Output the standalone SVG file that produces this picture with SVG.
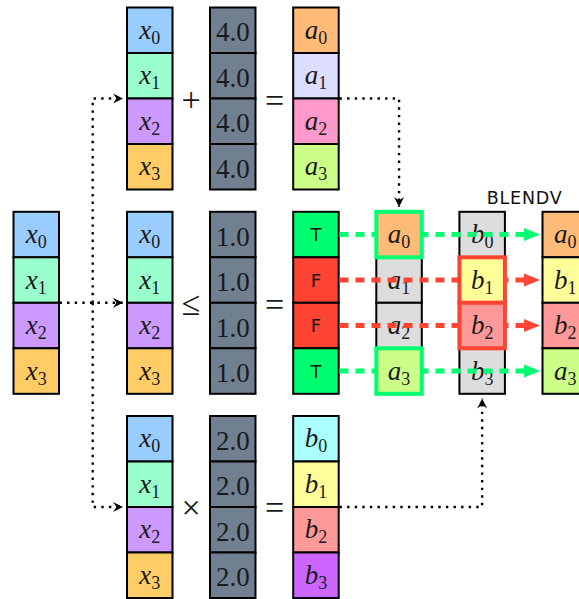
<svg xmlns="http://www.w3.org/2000/svg" width="579" height="599" viewBox="0 0 579 599">
<style>
.c{stroke:#000;stroke-width:2}
.m{font-family:"Liberation Serif","DejaVu Serif",serif;font-size:27px;fill:#1a1a1a;text-anchor:middle}
.n{font-size:27px}
.i{font-style:italic}
.s{font-size:18px;font-style:normal}
.tf{font-family:"DejaVu Sans",sans-serif;font-size:18px;fill:#111;text-anchor:middle}
.op{font-family:"Liberation Serif","DejaVu Serif",serif;font-size:34px;fill:#1a1a1a;text-anchor:middle}
.dot{fill:none;stroke:#000;stroke-width:2.4;stroke-dasharray:2.4 5.2}
.gd{fill:none;stroke:#00ff70;stroke-width:5;stroke-dasharray:9 7}
.rd{fill:none;stroke:#ff4433;stroke-width:5;stroke-dasharray:9 7}
.hg{stroke:#00ff70;stroke-width:4}
.hr{stroke:#ff4433;stroke-width:4}
.lbl{font-family:"DejaVu Sans",sans-serif;font-size:17.5px;fill:#111}
</style>
<defs>
<marker id="ab" viewBox="-11 -6 12 12" refX="0" refY="0" markerWidth="12" markerHeight="12" markerUnits="userSpaceOnUse" orient="auto">
<path d="M-10,-5 L0,0 L-10,5 L-6.5,0 z" fill="#000"/>
</marker>
<marker id="ag" viewBox="-2 -8 19 16" refX="0" refY="0" markerWidth="19" markerHeight="16" markerUnits="userSpaceOnUse" orient="auto">
<path d="M-1,-6.5 L15,0 L-1,6.5 z" fill="#00ff70"/>
</marker>
<marker id="ar" viewBox="-2 -8 19 16" refX="0" refY="0" markerWidth="19" markerHeight="16" markerUnits="userSpaceOnUse" orient="auto">
<path d="M-1,-6.5 L15,0 L-1,6.5 z" fill="#ff4433"/>
</marker>
</defs>

<!-- top row: x + 4.0 = a -->
<g id="x-add">
<rect class="c" x="127" y="7.5" width="45.5" height="45.5" fill="#99ccff"/>
<rect class="c" x="127" y="53" width="45.5" height="45.5" fill="#99ffcc"/>
<rect class="c" x="127" y="98.5" width="45.5" height="45.5" fill="#cc99ff"/>
<rect class="c" x="127" y="144" width="45.5" height="45.5" fill="#ffcc66"/>
<text class="m" x="149.75" y="38.75"><tspan class="i">x</tspan><tspan class="s" dy="5">0</tspan></text>
<text class="m" x="149.75" y="84.25"><tspan class="i">x</tspan><tspan class="s" dy="5">1</tspan></text>
<text class="m" x="149.75" y="129.75"><tspan class="i">x</tspan><tspan class="s" dy="5">2</tspan></text>
<text class="m" x="149.75" y="175.25"><tspan class="i">x</tspan><tspan class="s" dy="5">3</tspan></text>
</g>
<g id="op-plus"><text class="op" x="191" y="111">+</text></g>
<g id="const-4">
<rect class="c" x="210" y="7.5" width="45.5" height="45.5" fill="#708090"/>
<rect class="c" x="210" y="53" width="45.5" height="45.5" fill="#708090"/>
<rect class="c" x="210" y="98.5" width="45.5" height="45.5" fill="#708090"/>
<rect class="c" x="210" y="144" width="45.5" height="45.5" fill="#708090"/>
<text class="m n" x="232.75" y="41.25">4.0</text>
<text class="m n" x="232.75" y="86.75">4.0</text>
<text class="m n" x="232.75" y="132.25">4.0</text>
<text class="m n" x="232.75" y="177.75">4.0</text>
</g>
<g id="op-eq1"><text class="op" x="274.5" y="112">=</text></g>
<g id="a-vec">
<rect class="c" x="293.2" y="7.5" width="45.5" height="45.5" fill="#ffbb77"/>
<rect class="c" x="293.2" y="53" width="45.5" height="45.5" fill="#ddddff"/>
<rect class="c" x="293.2" y="98.5" width="45.5" height="45.5" fill="#ff99cc"/>
<rect class="c" x="293.2" y="144" width="45.5" height="45.5" fill="#ccff88"/>
<text class="m" x="315.95" y="38.75"><tspan class="i">a</tspan><tspan class="s" dy="5">0</tspan></text>
<text class="m" x="315.95" y="84.25"><tspan class="i">a</tspan><tspan class="s" dy="5">1</tspan></text>
<text class="m" x="315.95" y="129.75"><tspan class="i">a</tspan><tspan class="s" dy="5">2</tspan></text>
<text class="m" x="315.95" y="175.25"><tspan class="i">a</tspan><tspan class="s" dy="5">3</tspan></text>
</g>

<!-- middle row -->
<g id="x-src">
<rect class="c" x="13.5" y="211.8" width="45.5" height="45.5" fill="#99ccff"/>
<rect class="c" x="13.5" y="257.3" width="45.5" height="45.5" fill="#99ffcc"/>
<rect class="c" x="13.5" y="302.8" width="45.5" height="45.5" fill="#cc99ff"/>
<rect class="c" x="13.5" y="348.3" width="45.5" height="45.5" fill="#ffcc66"/>
<text class="m" x="36.25" y="243.05"><tspan class="i">x</tspan><tspan class="s" dy="5">0</tspan></text>
<text class="m" x="36.25" y="288.55"><tspan class="i">x</tspan><tspan class="s" dy="5">1</tspan></text>
<text class="m" x="36.25" y="334.05"><tspan class="i">x</tspan><tspan class="s" dy="5">2</tspan></text>
<text class="m" x="36.25" y="379.55"><tspan class="i">x</tspan><tspan class="s" dy="5">3</tspan></text>
</g>
<g id="x-cmp">
<rect class="c" x="127" y="211.8" width="45.5" height="45.5" fill="#99ccff"/>
<rect class="c" x="127" y="257.3" width="45.5" height="45.5" fill="#99ffcc"/>
<rect class="c" x="127" y="302.8" width="45.5" height="45.5" fill="#cc99ff"/>
<rect class="c" x="127" y="348.3" width="45.5" height="45.5" fill="#ffcc66"/>
<text class="m" x="149.75" y="243.05"><tspan class="i">x</tspan><tspan class="s" dy="5">0</tspan></text>
<text class="m" x="149.75" y="288.55"><tspan class="i">x</tspan><tspan class="s" dy="5">1</tspan></text>
<text class="m" x="149.75" y="334.05"><tspan class="i">x</tspan><tspan class="s" dy="5">2</tspan></text>
<text class="m" x="149.75" y="379.55"><tspan class="i">x</tspan><tspan class="s" dy="5">3</tspan></text>
</g>
<g id="op-le"><text class="op" x="191" y="315">≤</text></g>
<g id="const-1">
<rect class="c" x="210" y="211.8" width="45.5" height="45.5" fill="#708090"/>
<rect class="c" x="210" y="257.3" width="45.5" height="45.5" fill="#708090"/>
<rect class="c" x="210" y="302.8" width="45.5" height="45.5" fill="#708090"/>
<rect class="c" x="210" y="348.3" width="45.5" height="45.5" fill="#708090"/>
<text class="m n" x="232.75" y="245.55">1.0</text>
<text class="m n" x="232.75" y="291.05">1.0</text>
<text class="m n" x="232.75" y="336.55">1.0</text>
<text class="m n" x="232.75" y="382.05">1.0</text>
</g>
<g id="op-eq2"><text class="op" x="274.5" y="316">=</text></g>
<g id="mask">
<rect class="c" x="293.2" y="211.8" width="45.5" height="45.5" fill="#00ff70"/>
<rect class="c" x="293.2" y="257.3" width="45.5" height="45.5" fill="#ff4433"/>
<rect class="c" x="293.2" y="302.8" width="45.5" height="45.5" fill="#ff4433"/>
<rect class="c" x="293.2" y="348.3" width="45.5" height="45.5" fill="#00ff70"/>
<text class="tf" x="315.95" y="241.3">T</text>
<text class="tf" x="315.95" y="286.8">F</text>
<text class="tf" x="315.95" y="332.3">F</text>
<text class="tf" x="315.95" y="377.8">T</text>
</g>
<g id="a-gray">
<rect class="c" x="376.3" y="257.3" width="45.5" height="45.5" fill="#dddddd"/>
<rect class="c" x="376.3" y="302.8" width="45.5" height="45.5" fill="#dddddd"/>
<text class="m" x="399.05" y="288.55"><tspan class="i">a</tspan><tspan class="s" dy="5">1</tspan></text>
<text class="m" x="399.05" y="334.05"><tspan class="i">a</tspan><tspan class="s" dy="5">2</tspan></text>
</g>
<g id="b-gray">
<rect class="c" x="459.4" y="211.8" width="45.5" height="45.5" fill="#dddddd"/>
<rect class="c" x="459.4" y="348.3" width="45.5" height="45.5" fill="#dddddd"/>
<text class="m" x="482.15" y="243.05"><tspan class="i">b</tspan><tspan class="s" dy="5">0</tspan></text>
<text class="m" x="482.15" y="379.55"><tspan class="i">b</tspan><tspan class="s" dy="5">3</tspan></text>
</g>
<g id="result">
<rect class="c" x="542.5" y="211.8" width="45.5" height="45.5" fill="#ffbb77"/>
<rect class="c" x="542.5" y="257.3" width="45.5" height="45.5" fill="#ffff99"/>
<rect class="c" x="542.5" y="302.8" width="45.5" height="45.5" fill="#ff9999"/>
<rect class="c" x="542.5" y="348.3" width="45.5" height="45.5" fill="#ccff88"/>
<text class="m" x="565.25" y="243.05"><tspan class="i">a</tspan><tspan class="s" dy="5">0</tspan></text>
<text class="m" x="565.25" y="288.55"><tspan class="i">b</tspan><tspan class="s" dy="5">1</tspan></text>
<text class="m" x="565.25" y="334.05"><tspan class="i">b</tspan><tspan class="s" dy="5">2</tspan></text>
<text class="m" x="565.25" y="379.55"><tspan class="i">a</tspan><tspan class="s" dy="5">3</tspan></text>
</g>
<g id="blendv-label"><text class="lbl" x="486.7" y="204" textLength="75" lengthAdjust="spacing">BLENDV</text></g>

<!-- bottom row: x * 2.0 = b -->
<g id="x-mul">
<rect class="c" x="127" y="416" width="45.5" height="45.5" fill="#99ccff"/>
<rect class="c" x="127" y="461.5" width="45.5" height="45.5" fill="#99ffcc"/>
<rect class="c" x="127" y="507" width="45.5" height="45.5" fill="#cc99ff"/>
<rect class="c" x="127" y="552.5" width="45.5" height="45.5" fill="#ffcc66"/>
<text class="m" x="149.75" y="447.25"><tspan class="i">x</tspan><tspan class="s" dy="5">0</tspan></text>
<text class="m" x="149.75" y="492.75"><tspan class="i">x</tspan><tspan class="s" dy="5">1</tspan></text>
<text class="m" x="149.75" y="538.25"><tspan class="i">x</tspan><tspan class="s" dy="5">2</tspan></text>
<text class="m" x="149.75" y="583.75"><tspan class="i">x</tspan><tspan class="s" dy="5">3</tspan></text>
</g>
<g id="op-times"><text class="op" x="191" y="519">×</text></g>
<g id="const-2">
<rect class="c" x="210" y="416" width="45.5" height="45.5" fill="#708090"/>
<rect class="c" x="210" y="461.5" width="45.5" height="45.5" fill="#708090"/>
<rect class="c" x="210" y="507" width="45.5" height="45.5" fill="#708090"/>
<rect class="c" x="210" y="552.5" width="45.5" height="45.5" fill="#708090"/>
<text class="m n" x="232.75" y="449.75">2.0</text>
<text class="m n" x="232.75" y="495.25">2.0</text>
<text class="m n" x="232.75" y="540.75">2.0</text>
<text class="m n" x="232.75" y="586.25">2.0</text>
</g>
<g id="op-eq3"><text class="op" x="274.5" y="519">=</text></g>
<g id="b-vec">
<rect class="c" x="293.2" y="416" width="45.5" height="45.5" fill="#aaffff"/>
<rect class="c" x="293.2" y="461.5" width="45.5" height="45.5" fill="#ffff99"/>
<rect class="c" x="293.2" y="507" width="45.5" height="45.5" fill="#ff9999"/>
<rect class="c" x="293.2" y="552.5" width="45.5" height="45.5" fill="#cc66ff"/>
<text class="m" x="315.95" y="447.25"><tspan class="i">b</tspan><tspan class="s" dy="5">0</tspan></text>
<text class="m" x="315.95" y="492.75"><tspan class="i">b</tspan><tspan class="s" dy="5">1</tspan></text>
<text class="m" x="315.95" y="538.25"><tspan class="i">b</tspan><tspan class="s" dy="5">2</tspan></text>
<text class="m" x="315.95" y="583.75"><tspan class="i">b</tspan><tspan class="s" dy="5">3</tspan></text>
</g>

<!-- connectors -->
<g id="connectors">
<path class="dot" d="M92.7,302.8 V98.5 H123" marker-end="url(#ab)"/>
<path class="dot" d="M92.7,302.8 V507 H123" marker-end="url(#ab)"/>
<path class="dot" d="M59.5,302.8 H123" marker-end="url(#ab)"/>
<path class="dot" d="M339.5,98.5 H399.05 V207" marker-end="url(#ab)"/>
<path class="dot" d="M339.5,507 H482.15 V398.5" marker-end="url(#ab)"/>
<path class="gd" d="M339.5,234.55 H525" marker-end="url(#ag)"/>
<path class="rd" d="M339.5,280.05 H525" marker-end="url(#ar)"/>
<path class="rd" d="M339.5,325.55 H525" marker-end="url(#ar)"/>
<path class="gd" d="M339.5,371.05 H525" marker-end="url(#ag)"/>
</g>

<!-- highlighted (selected) cells on top -->
<g id="a-sel">
<rect class="hg" x="376.3" y="211.8" width="45.5" height="45.5" fill="#ffbb77"/>
<rect class="hg" x="376.3" y="348.3" width="45.5" height="45.5" fill="#ccff88"/>
<text class="m" x="399.05" y="243.05"><tspan class="i">a</tspan><tspan class="s" dy="5">0</tspan></text>
<text class="m" x="399.05" y="379.55"><tspan class="i">a</tspan><tspan class="s" dy="5">3</tspan></text>
</g>
<g id="b-sel">
<rect class="hr" x="459.4" y="257.3" width="45.5" height="45.5" fill="#ffff99"/>
<rect class="hr" x="459.4" y="302.8" width="45.5" height="45.5" fill="#ff9999"/>
<text class="m" x="482.15" y="288.55"><tspan class="i">b</tspan><tspan class="s" dy="5">1</tspan></text>
<text class="m" x="482.15" y="334.05"><tspan class="i">b</tspan><tspan class="s" dy="5">2</tspan></text>
</g>
</svg>
